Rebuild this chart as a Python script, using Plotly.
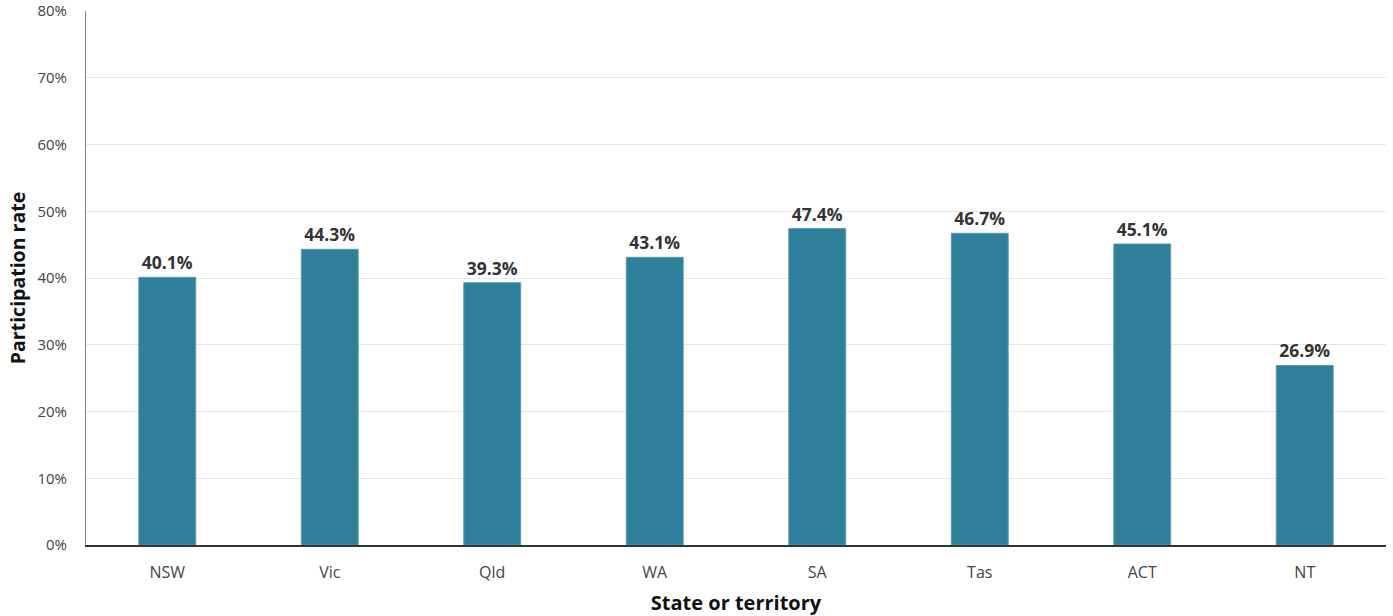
import plotly.graph_objects as go

# Participation rate by state or territory
states = ["NSW", "Vic", "Qld", "WA", "SA", "Tas", "ACT", "NT"]
rates = [40.1, 44.3, 39.3, 43.1, 47.4, 46.7, 45.1, 26.9]
y_ticks = [0, 10, 20, 30, 40, 50, 60, 70, 80]

FONT = "Open Sans"

fig = go.Figure(
    go.Bar(
        x=states,
        y=rates,
        marker=dict(color="#2E7F99", line=dict(color="#5a9bb0", width=1)),
        text=[f"{v:.1f}%" for v in rates],
        textposition="outside",
        cliponaxis=False,
        textfont=dict(family=FONT, size=17.5, color="#333333", weight="bold"),
        hoverinfo="skip",
    )
)

fig.update_layout(
    width=1393,
    height=616,
    margin=dict(l=86, r=7, t=11, b=71),
    paper_bgcolor="white",
    plot_bgcolor="white",
    bargap=0.65,
    showlegend=False,
    font=dict(family=FONT),
)

fig.update_xaxes(
    automargin=False,
    showline=True,
    linecolor="#333333",
    linewidth=1.5,
    ticks="",
    tickfont=dict(family=FONT, size=16, color="#444444"),
    ticklabelstandoff=12,
    title=dict(
        text="State or territory",
        font=dict(family=FONT, size=20, color="#111111", weight="bold"),
        standoff=14,
    ),
)

fig.update_yaxes(
    automargin=False,
    range=[0, 80],
    tickvals=y_ticks,
    ticktext=[f"{t}%" for t in y_ticks],
    showgrid=True,
    gridcolor="#e6e6e6",
    gridwidth=1,
    zeroline=False,
    showline=True,
    linecolor="#888888",
    linewidth=1,
    ticks="",
    ticklabelstandoff=15,
    tickfont=dict(family=FONT, size=15, color="#444444"),
    title=dict(
        text="Participation rate",
        font=dict(family=FONT, size=19.5, color="#111111", weight="bold"),
        standoff=6,
    ),
)

fig.write_html("out.html")
